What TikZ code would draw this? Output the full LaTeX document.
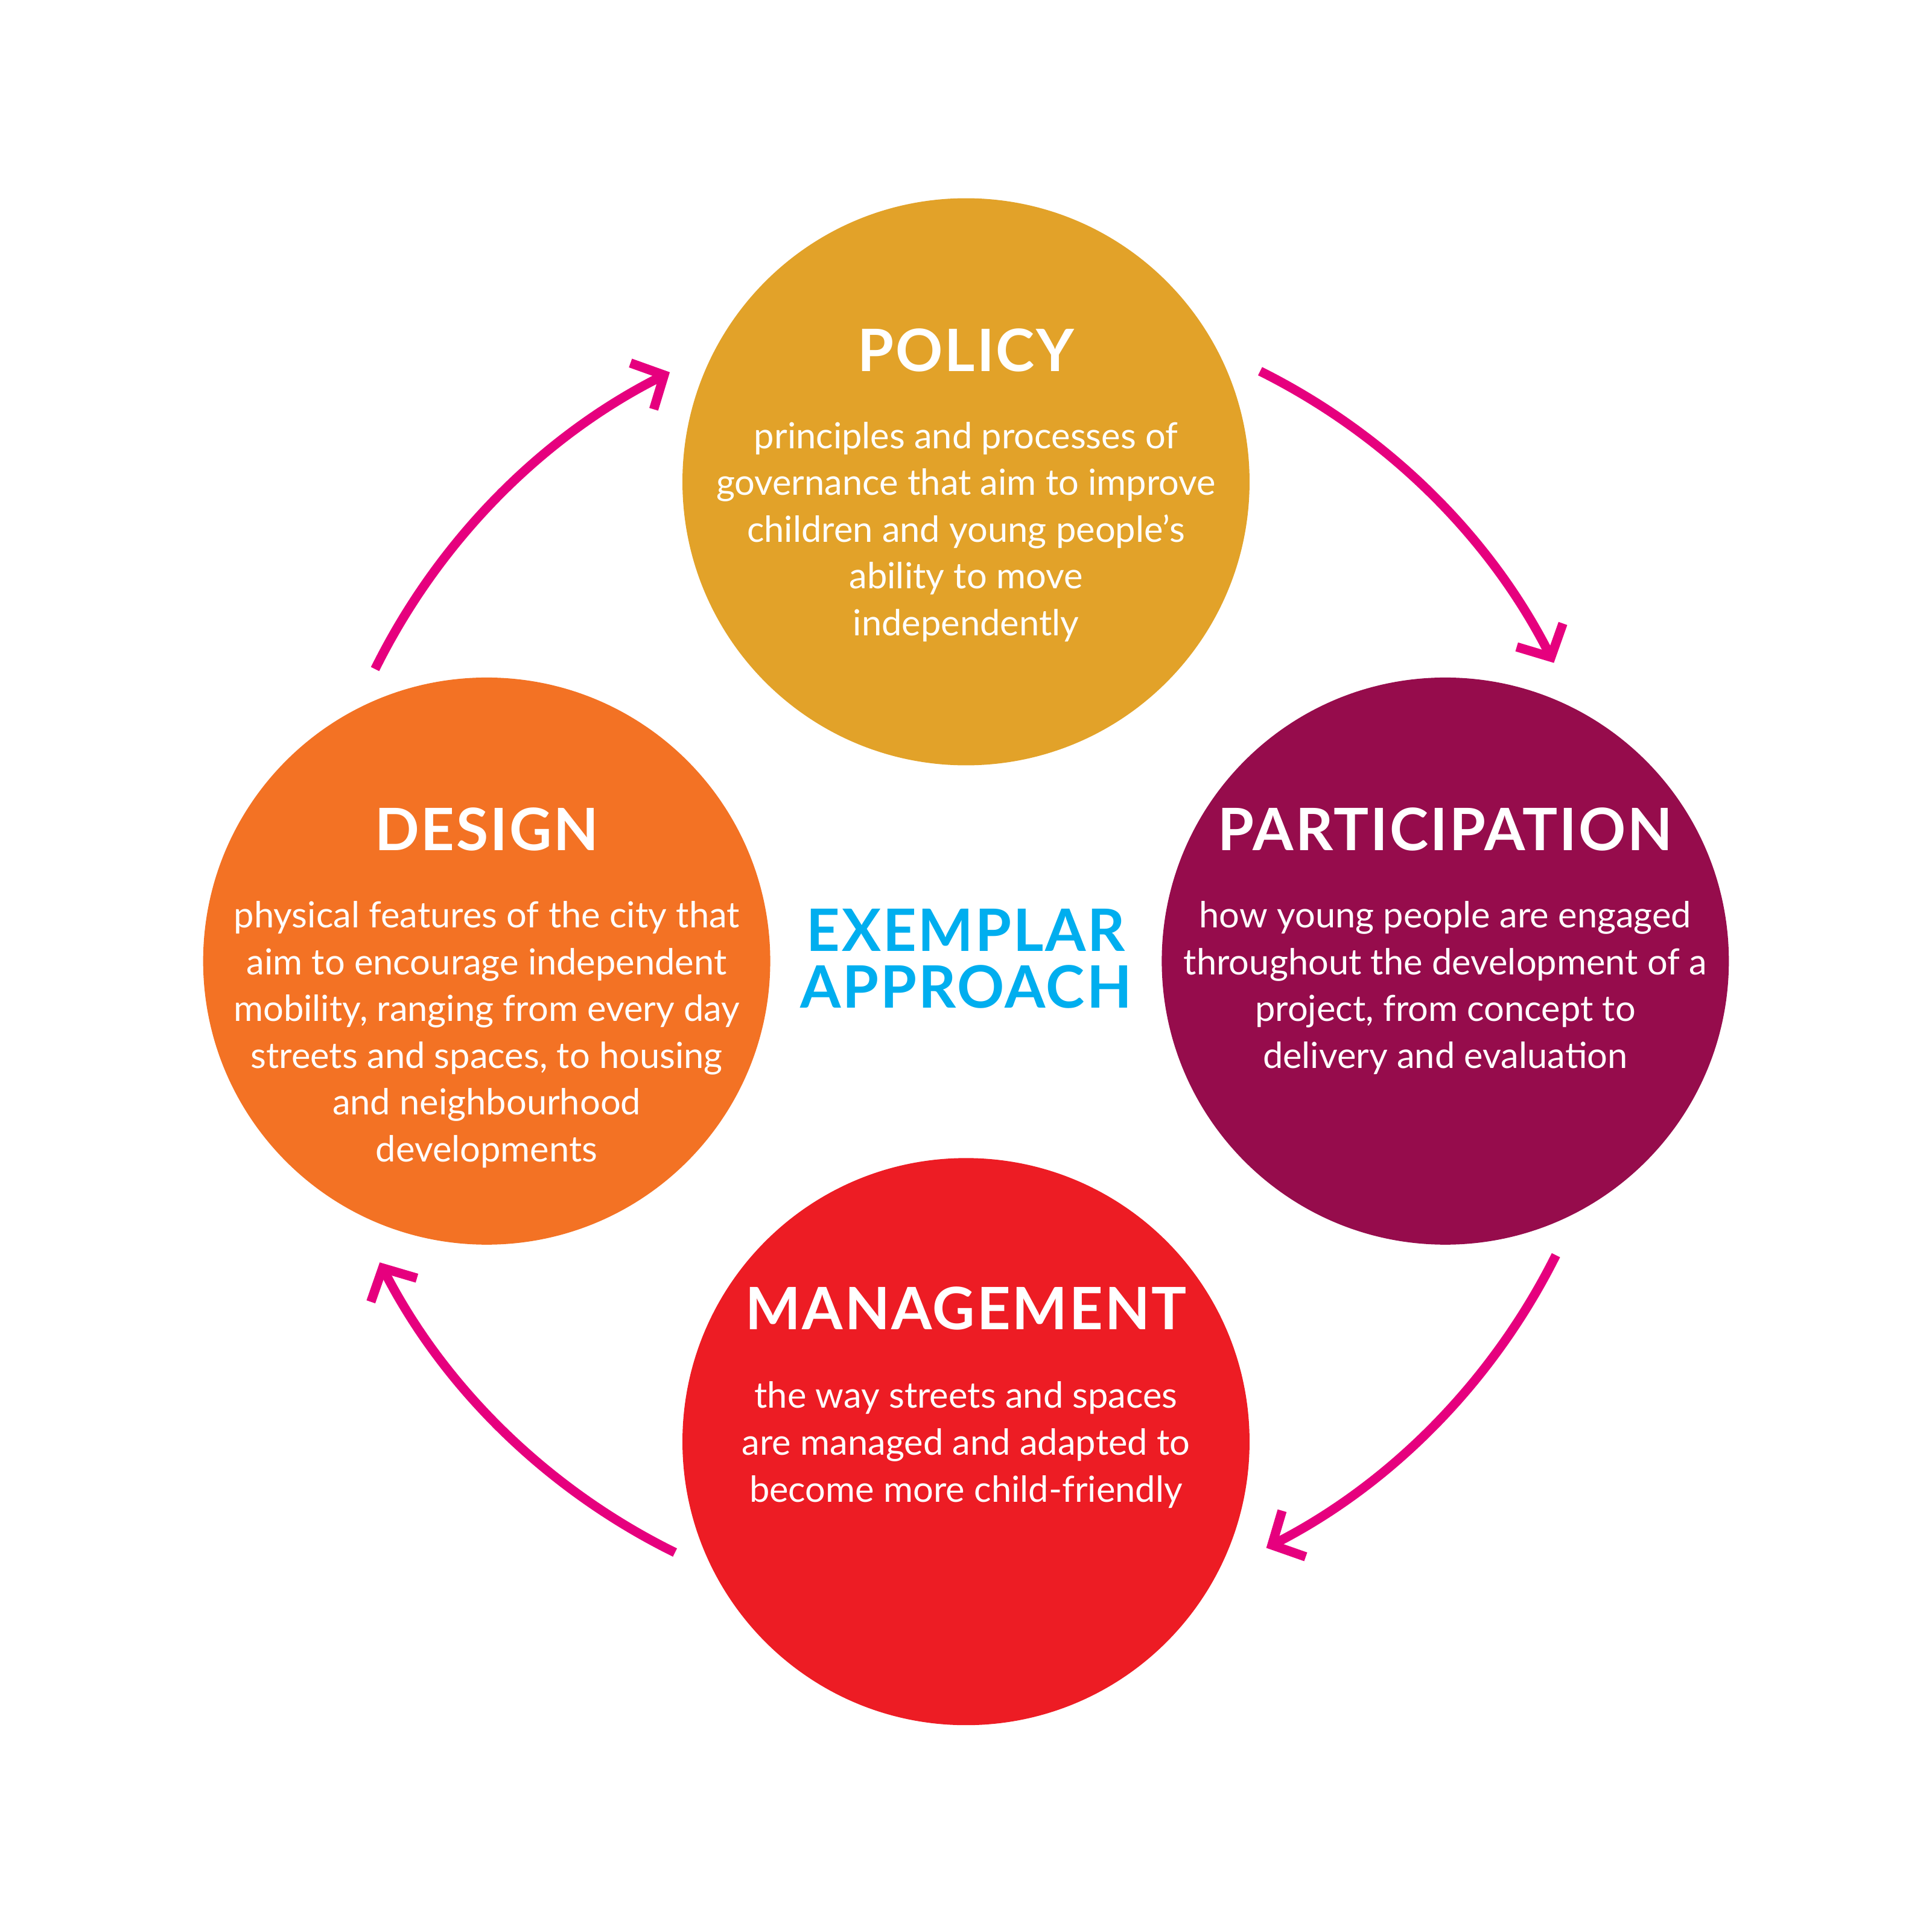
\documentclass[tikz,border=0pt]{standalone}
\usepackage{fontspec}
\setmainfont{Lato}
\usetikzlibrary{arrows.meta}
\definecolor{pol}{HTML}{E2A229}
\definecolor{des}{HTML}{F37224}
\definecolor{par}{HTML}{960C4C}
\definecolor{man}{HTML}{ED1C24}
\definecolor{pnk}{HTML}{E6007E}
\definecolor{blu}{HTML}{00AEEF}
\begin{document}
\begin{tikzpicture}[x=0.01cm,y=-0.01cm,
  circ/.style={circle,minimum size=4.6cm,inner sep=0pt},
  ttl/.style={text=white,font=\fontsize{13.5}{16}\selectfont\bfseries\addfontfeatures{LetterSpace=3}},
  bdy/.style={text=white,align=center,font=\fontsize{8.3}{10.8}\selectfont,anchor=north},
  arr/.style={pnk,line width=0.075cm,-{Straight Barb[length=0.2cm,width=0.42cm,line width=0.075cm]}}]
\useasboundingbox (0,0) rectangle (1568,1568);
\coordinate (c) at (784,780);
\node[circ,fill=pol] (policy) at (784,391) {};
\node[circ,fill=des] (design) at (395,780) {};
\node[circ,fill=par] (partic) at (1173,780) {};
\node[circ,fill=man] (manage) at (784,1170) {};
\node[ttl] (t1) at (784,284) {POLICY};
\node[ttl] (t2) at (395,673) {DESIGN};
\node[ttl] (t3) at (1173,673) {PARTICIPATION};
\node[ttl] (t4) at (784,1062) {MANAGEMENT};
\node[bdy] (b1) at (784,330) {principles and processes of\\governance that aim to improve\\children and young people’s\\ability to move\\independently};
\node[bdy] (b2) at (395,719) {physical features of the city that\\aim to encourage independent\\mobility, ranging from every day\\streets and spaces, to housing\\and neighbourhood\\developments};
\node[bdy] (b3) at (1173,719) {how young people are engaged\\throughout the development of a\\project, from concept to\\delivery and evaluation};
\node[bdy] (b4) at (784,1109) {the way streets and spaces\\are managed and adapted to\\become more child-friendly};
\node[text=blu,align=center,font=\fontsize{13.5}{13}\selectfont\bfseries\addfontfeatures{LetterSpace=3}] (ex) at (784,778) {EXEMPLAR\\APPROACH};
\draw[arr] (c) ++(206.3:535) arc[start angle=206.3,end angle=243.3,radius=535];
\draw[arr] (c) ++(296.5:535) arc[start angle=296.5,end angle=333.1,radius=535];
\draw[arr] (c) ++(26.5:535) arc[start angle=26.5,end angle=62.9,radius=535];
\draw[arr] (c) ++(116.2:535) arc[start angle=116.2,end angle=152.8,radius=535];
\end{tikzpicture}
\end{document}
